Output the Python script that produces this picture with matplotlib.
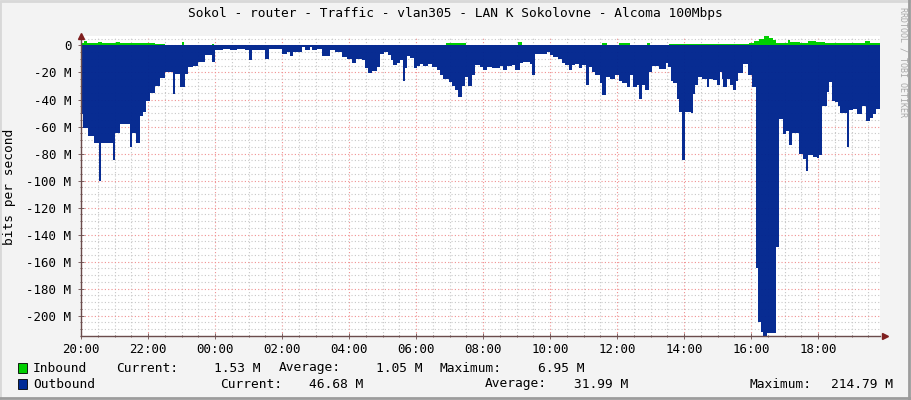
import numpy as np
import matplotlib
matplotlib.use('Agg')
import matplotlib.pyplot as plt
from matplotlib.ticker import MultipleLocator, FuncFormatter
from matplotlib.lines import Line2D
from matplotlib.patches import Rectangle

plt.rcParams['font.family'] = ['DejaVu Sans Mono']

title = 'Sokol - router - Traffic - vlan305 - LAN K Sokolovne - Alcoma 100Mbps'
start_hour = 20          # graph starts at 20:00
end_h = 23.85            # hours shown

# outbound traffic (Mbit/s), step data: hours since 20:00 -> value
out_h = [0.00, 0.05, 0.20, 0.40, 0.53, 0.61, 0.95, 1.02, 1.15, 1.45, 1.52, 1.65, 1.75, 1.85, 1.95, 2.05, 2.20, 2.35, 2.50, 2.75, 2.81, 2.95, 3.10, 3.20, 3.35, 3.50, 3.70, 3.90, 3.99, 4.25,
         4.45, 4.65, 4.90, 5.00, 5.10, 5.50, 5.61, 6.00, 6.14, 6.24, 6.34, 6.59, 6.69, 6.84, 6.91, 7.04, 7.19, 7.43, 7.58, 7.78, 7.93, 8.10, 8.20, 8.38, 8.48, 8.58,
         8.70, 8.83, 8.93, 9.03, 9.17, 9.24, 9.32, 9.42, 9.52, 9.60, 9.67, 9.72, 9.82, 9.95, 10.02, 10.12, 10.22, 10.37, 10.47, 10.62, 10.72, 10.82, 10.97, 11.07, 11.17, 11.26, 11.36, 11.46, 11.56, 11.66, 11.76, 11.91, 12.01, 12.11, 12.26, 12.51, 12.61, 12.71, 12.86,
         12.96, 13.10, 13.20, 13.40, 13.47, 13.55, 13.90, 14.00, 14.10, 14.25, 14.35, 14.45, 14.57, 14.65, 14.75, 14.87, 14.95, 15.07, 15.17, 15.24, 15.34, 15.49, 15.56, 15.66, 15.79, 15.94, 16.06, 16.16, 16.29, 16.39, 16.49, 16.59, 16.67, 16.74, 16.84, 16.94, 17.04, 17.26,
         17.46, 17.53, 17.60, 17.68, 17.78, 17.86, 17.93, 18.03, 18.20, 18.26, 18.33, 18.43, 18.53, 18.68, 18.76, 18.88, 18.98, 19.06, 19.12, 19.17, 19.27, 19.37, 19.45, 19.55, 19.62, 19.75, 19.85, 19.92, 20.02,
         20.15, 20.22, 20.29, 20.35, 20.47, 20.75, 20.85, 20.95, 21.04, 21.14, 21.21, 21.31, 21.44, 21.56, 21.64, 21.71, 21.84, 21.96, 22.04, 22.13, 22.26, 22.34, 22.42, 22.51, 22.61, 22.66, 22.86, 22.93, 23.04, 23.16, 23.30, 23.43, 23.55, 23.63, 23.73]
out_v = [51, 61, 67, 72, 100, 72, 85, 65, 58, 75, 65, 72, 52, 49, 41, 35, 30, 24, 20, 36, 21, 31, 21, 16, 15, 12, 7, 12, 3.5, 2.3,
         3.7, 2.5, 3.7, 11, 3, 10, 2.5, 6, 5, 7.5, 5, 1.2, 3, 1.2, 3.7, 2.5, 8, 3, 5, 8.7, 10, 13, 10, 11, 17, 20.5,
         19, 16, 6, 5.2, 7, 11, 14.6, 13, 11, 26, 17, 7.7, 9, 17, 15, 13.5, 15, 14, 16, 18.5, 22, 24.6, 27, 30, 33, 38, 30, 23, 30, 22, 14.6, 16, 18, 16, 17, 15, 18, 15, 14.5,
         18, 13, 12, 13.5, 22, 6, 5, 7, 8.7, 10, 13, 14.6, 18, 14.6, 13.5, 17, 14.6, 29.6, 16, 20, 22, 28, 37, 23, 24.6, 22, 26, 28, 31, 22, 31, 29, 39.6, 29, 33, 20, 15, 17.5,
         13, 16, 26, 28, 39.5, 49, 85, 49, 50, 35.6, 29.6, 23.5, 24.5, 31, 25, 25.5, 29.6, 20, 24.5, 31, 24.5, 29, 33, 26.5, 20.7, 13.5, 14, 22, 31,
         165, 205, 212, 214.79, 213, 149, 54.4, 65.5, 63, 74, 65, 64.5, 80, 84, 92.7, 81, 82.6, 83, 81, 44.6, 34.7, 27, 40.9, 42, 44.6, 50, 75, 48, 47, 51, 44.6, 56, 54, 51, 46.68]

# inbound traffic (Mbit/s)
in_h = [0.00, 0.08, 0.18, 0.50, 0.62, 1.05, 1.17, 1.80, 2.20, 2.50, 3.00, 3.08, 3.90, 3.96, 10.90, 11.50, 13.05, 13.15, 15.55, 15.70,
        16.05, 16.40, 16.90, 16.97, 17.55, 19.95, 20.10, 20.25, 20.40, 20.55, 20.65, 20.75, 21.10, 21.17, 21.45, 21.70, 21.95, 22.20, 23.40, 23.55]
in_v = [1.5, 3.2, 1.8, 2.6, 1.8, 2.8, 1.8, 1.5, 1.2, 0.7, 2.8, 0.7, 1.4, 0.45, 1.6, 0.45, 2.6, 0.45, 1.5, 0.45,
        1.6, 0.45, 1.6, 0.45, 1.2, 1.5, 3.5, 5.0, 6.95, 5.5, 4.0, 1.6, 4.0, 2.4, 1.6, 3.5, 2.4, 1.6, 3.5, 1.53]

legend_names = ['Inbound', 'Outbound']
legend_cur = ['1.53 M', '46.68 M']
legend_avg = ['1.05 M', '31.99 M']
legend_max = ['6.95 M', '214.79 M']

IN_COL = '#00CF00'
OUT_COL = '#002A97'
BG = '#F3F3F3'
W, H = 911, 400

fig = plt.figure(figsize=(W / 100, H / 100), dpi=100, facecolor=BG)
ax = fig.add_axes([81 / W, 64 / H, 799 / W, 300 / H])
ax.set_facecolor('white')

t = np.append(out_h, end_h)
v = -np.append(out_v, out_v[-1])
ax.fill_between(t, v, 0, step='post', color='#00258f', alpha=0.97, linewidth=0, zorder=1)
t2 = np.append(in_h, end_h)
v2 = np.append(in_v, in_v[-1])
ax.fill_between(t2, v2, 0, step='post', color=IN_COL, linewidth=0, zorder=1)

ax.set_xlim(0, end_h)
ax.set_ylim(-215, 7)

ax.xaxis.set_major_locator(MultipleLocator(2))
ax.xaxis.set_minor_locator(MultipleLocator(0.5))
ax.yaxis.set_major_locator(MultipleLocator(20))
ax.yaxis.set_minor_locator(MultipleLocator(5))
ax.xaxis.set_major_formatter(FuncFormatter(lambda x, p: '%02d:00' % ((start_hour + int(round(x))) % 24)))
ax.yaxis.set_major_formatter(FuncFormatter(lambda y, p: '0' if abs(y) < 1e-9 else '%d M' % round(y)))

# grid under the areas, faintly showing through
ax.set_axisbelow(True)
ax.grid(which='minor', color='#c8c8c8', linestyle=(0, (1, 2)), linewidth=0.8)
ax.grid(which='major', color='#f09090', linestyle=(0, (1, 2)), linewidth=0.8)

for s in ['top', 'right']:
    ax.spines[s].set_visible(False)
for s in ['left', 'bottom']:
    ax.spines[s].set_color('#6b4c4c')
    ax.spines[s].set_linewidth(1)
    ax.spines[s].set_zorder(3)

ax.tick_params(which='both', direction='inout', color='#6b4c4c', width=0.6)
ax.tick_params(which='major', length=4, labelsize=9, labelcolor='black')
ax.tick_params(which='minor', length=2)
ax.tick_params(axis='y', pad=5)
ax.tick_params(axis='x', pad=3)

# axis arrows
ax.plot([0], [1.0], marker='^', color='#7f1f1f', markersize=4, transform=ax.transAxes, clip_on=False, zorder=4)
ax.plot([1.006], [0], marker='>', color='#7f1f1f', markersize=4, transform=ax.transAxes, clip_on=False, zorder=4)

fig.text(455 / W, 1 - 14 / H, title, ha='center', va='center', fontsize=9.3)
fig.text(10 / W, 1 - 187 / H, 'bits per second', rotation=90, ha='center', va='center', fontsize=9.3)
fig.text(903 / W, 1 - 62 / H, 'RRDTOOL / TOBI OETIKER', rotation=270, ha='center', va='center', fontsize=6, color='#a8a8a8')

# legend
rows_y = [368, 384]
cols = [IN_COL, OUT_COL]
lab_x = [[116, 279, 440], [220, 485, 750]]
val_x = [[260, 422, 584], [363, 628, 893]]
for i in range(2):
    y = 1 - rows_y[i] / H
    fig.add_artist(Rectangle((18 / W, 1 - (rows_y[i] + 5) / H), 9 / W, 10 / H, facecolor=cols[i], edgecolor='black', linewidth=0.6))
    fig.text(33 / W, y, legend_names[i], ha='left', va='center', fontsize=9.3)
    for lx, vx, lab, val in zip(lab_x[i], val_x[i], ['Current:', 'Average:', 'Maximum:'], [legend_cur[i], legend_avg[i], legend_max[i]]):
        fig.text(lx / W, y, lab, ha='left', va='center', fontsize=9.3)
        fig.text(vx / W, y, val, ha='right', va='center', fontsize=9.3)

# canvas frame
fig.add_artist(Line2D([0, 0, 1], [0.004, 0.998, 0.998], color='#d8d8d8', linewidth=2))
fig.add_artist(Line2D([0.998, 0.998], [1, 0], color='#9c9c9c', linewidth=2))
fig.add_artist(Line2D([0, 1], [0.004, 0.004], color='#9c9c9c', linewidth=2))

fig.savefig('out.png', dpi=100, facecolor=BG)
